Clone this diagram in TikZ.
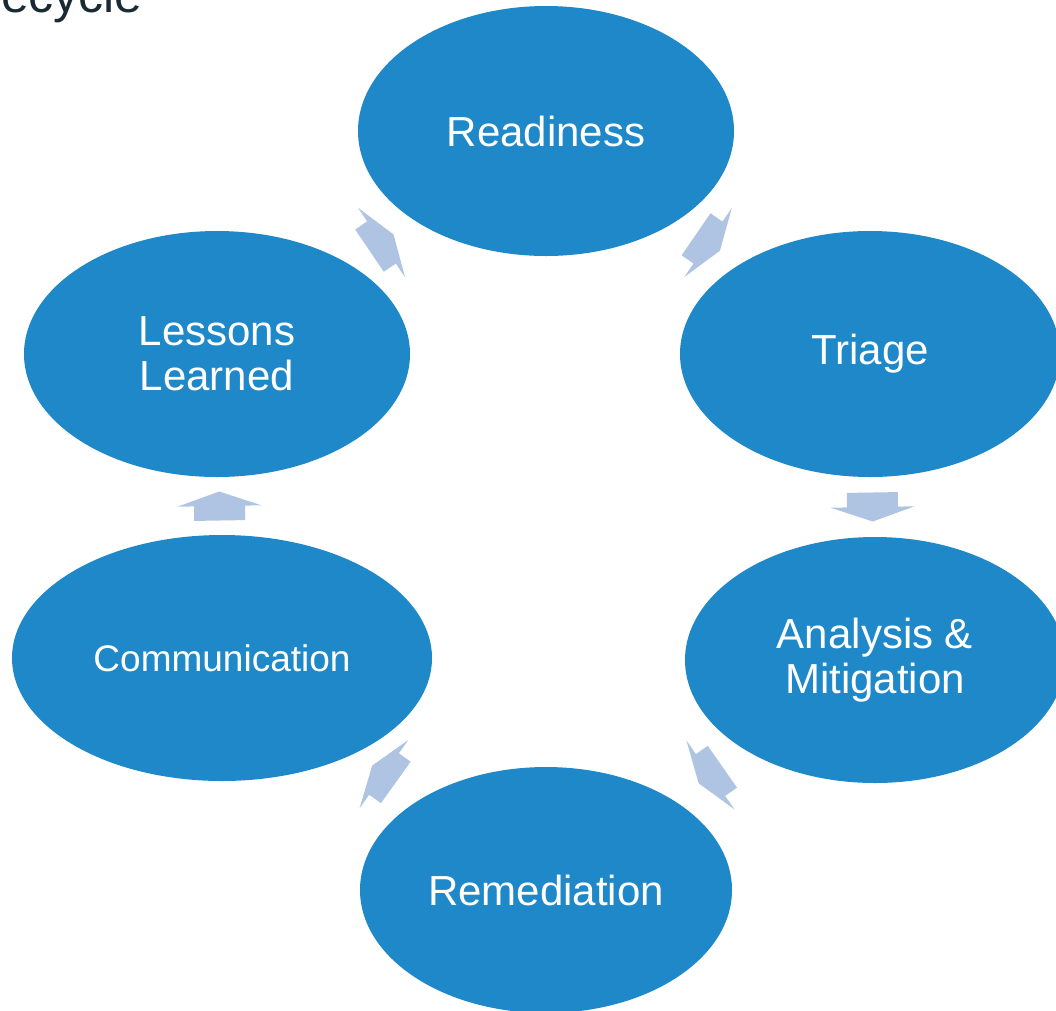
\documentclass[tikz,border=0pt]{standalone}
\usepackage{fontspec}
\setmainfont{Liberation Sans}
\usetikzlibrary{shapes.geometric,calc}
\definecolor{stageblue}{RGB}{30,136,200}
\definecolor{flowarrow}{RGB}{174,196,226}
\definecolor{titleink}{RGB}{26,42,51}
\tikzset{
  stage/.style={ellipse, fill=stageblue, draw=none, inner sep=0pt,
    text=white, align=center, font=\fontsize{42}{45}\selectfont},
  blockarrow/.pic={
    \fill[flowarrow] (-14.5,-25.5) -- (0,-25.5) -- (0,-42) -- (14.5,0)
      -- (0,42) -- (0,25.5) -- (-14.5,25.5) -- cycle;
  }
}
\newcommand{\flowarrow}[2]{%
  \path let \p1=($(#2)-(#1)$), \n1={atan2(\y1,\x1)} in
    ($(#1)!0.5!(#2)$) pic[rotate=\n1] {blockarrow};}
\begin{document}
\begin{tikzpicture}[x=1pt,y=-1pt]
  \useasboundingbox (0,0) rectangle (1056,1010);
  \clip (0,0) rectangle (1056,1010);

  % heading, mostly above the page edge
  \node[anchor=base east, inner sep=0pt, text=titleink,
        font=\fontsize{50}{60}\selectfont] (title) at (143,12) {ecycle};

  % the six stages of the cycle
  \node[stage, minimum width=376pt, minimum height=250pt] (rea) at (546,131) {Readiness};
  \node[stage, minimum width=380pt, minimum height=246pt] (tri) at (870,354) {Triage};
  \node[stage, minimum width=380pt, minimum height=246pt] (ana) at (875,660) {Analysis \&\\Mitigation};
  \node[stage, minimum width=372pt, minimum height=246pt] (rem) at (546,890) {Remediation};
  \node[stage, minimum width=420pt, minimum height=246pt,
        font=\fontsize{37}{42}\selectfont] (com) at (222,658) {Communication};
  \node[stage, minimum width=386pt, minimum height=246pt] (les) at (217,354) {Lessons\\Learned};

  % block arrows between consecutive stages
  \flowarrow{rea}{tri}
  \flowarrow{tri}{ana}
  \flowarrow{ana}{rem}
  \flowarrow{rem}{com}
  \flowarrow{com}{les}
  \flowarrow{les}{rea}
\end{tikzpicture}
\end{document}
